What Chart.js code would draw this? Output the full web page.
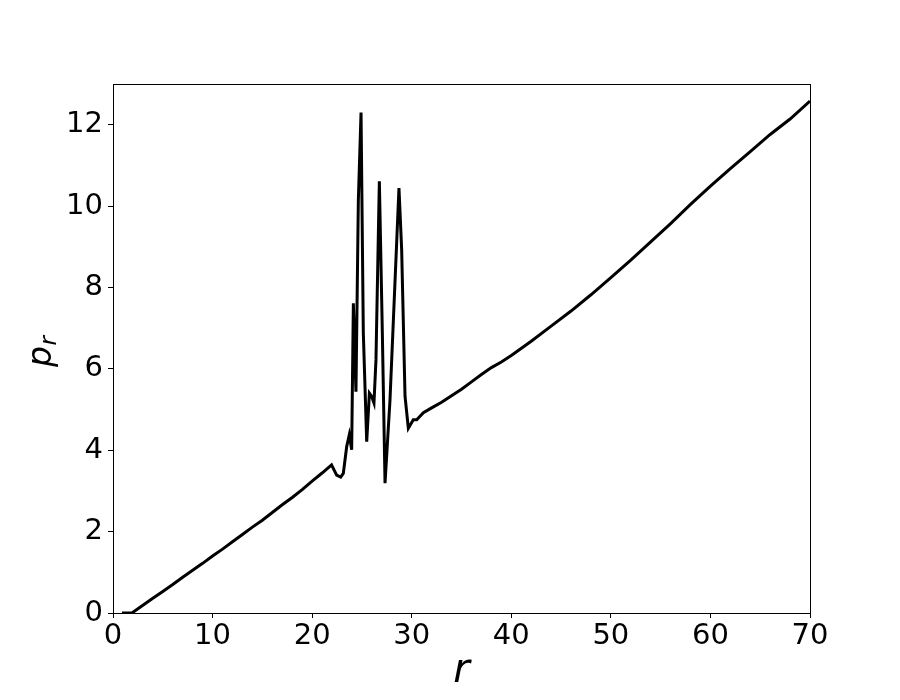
<!DOCTYPE html>
<html>
<head>
<meta charset="utf-8">
<script src="https://cdn.jsdelivr.net/npm/chart.js@4/dist/chart.umd.min.js"></script>
<style>
  html, body { margin: 0; padding: 0; background: #fff; }
  canvas { display: block; }
</style>
</head>
<body>
<canvas id="c" width="900" height="700"></canvas>
<script>
const rValues = [0.9, 1.9, 3, 4, 5, 6, 7, 8, 9, 10, 11, 12, 13, 14, 15, 16, 17, 18, 19, 20, 21,
  21.95, 22.46, 22.87, 23.13, 23.47, 23.73, 23.97, 24.14, 24.4, 24.64, 24.91, 25.14, 25.48,
  25.75, 25.98, 26.21, 26.41, 26.75, 27.05, 27.32, 27.82, 28.72, 28.99, 29.33, 29.66, 30.16,
  30.5, 31.17, 32, 33, 34, 35, 36, 37, 38, 39, 40, 42, 44, 46, 48, 50, 52, 54, 56, 58, 60,
  62, 64, 66, 68, 70];
const prValues = [0, 0, 0.19, 0.36, 0.53, 0.70, 0.88, 1.05, 1.22, 1.40, 1.57, 1.75, 1.93, 2.11,
  2.28, 2.47, 2.66, 2.84, 3.03, 3.24, 3.44,
  3.64, 3.39, 3.34, 3.43, 4.09, 4.38, 4.01, 7.61, 5.44, 10.15, 12.3, 6.88, 4.21,
  5.40, 5.32, 5.16, 6.22, 10.61, 6.88, 3.19, 5.24, 10.44, 8.93, 5.32, 4.54, 4.75,
  4.75, 4.92, 5.04, 5.18, 5.34, 5.50, 5.68, 5.86, 6.03, 6.17, 6.33, 6.68, 7.05, 7.42, 7.82,
  8.24, 8.67, 9.12, 9.57, 10.04, 10.49, 10.92, 11.34, 11.76, 12.14, 12.58];
const xTickValues = [0, 10, 20, 30, 40, 50, 60, 70];
const yTickValues = [0, 2, 4, 6, 8, 10, 12];
const xLabel = 'r';
const yLabelMain = 'p';
const yLabelSub = 'r';

const points = rValues.map((r, i) => ({ x: r, y: prValues[i] }));
const FONT = '"DejaVu Sans", sans-serif';

const framePlugin = {
  id: 'frame',
  afterDraw(chart) {
    const { ctx, chartArea: a } = chart;
    ctx.save();
    ctx.strokeStyle = '#000';
    ctx.lineWidth = 1;
    ctx.strokeRect(a.left + 0.5, a.top + 0.5, a.right - a.left, a.bottom - a.top);
    // x axis title
    ctx.fillStyle = '#000';
    ctx.font = 'italic 40px ' + FONT;
    ctx.textAlign = 'center';
    ctx.textBaseline = 'alphabetic';
    ctx.fillText(xLabel, (a.left + a.right) / 2, 681.5);
    // y axis title (rotated, with subscript)
    ctx.translate(51.3, 367);
    ctx.rotate(-Math.PI / 2);
    ctx.textAlign = 'left';
    ctx.font = 'italic 33px ' + FONT;
    ctx.fillText(yLabelMain, 0, 0);
    const pw = ctx.measureText(yLabelMain).width;
    ctx.font = 'italic 23px ' + FONT;
    ctx.fillText(yLabelSub, pw + 0.5, 4.7);
    ctx.restore();
  }
};

new Chart(document.getElementById('c'), {
  type: 'line',
  data: {
    datasets: [{
      data: points,
      borderColor: '#000',
      borderWidth: 3,
      pointRadius: 0,
      tension: 0,
      fill: false
    }]
  },
  options: {
    responsive: false,
    animation: false,
    devicePixelRatio: 1,
    layout: { padding: { top: 84, right: 90, left: 0, bottom: 0 } },
    plugins: { legend: { display: false }, tooltip: { enabled: false } },
    scales: {
      x: {
        type: 'linear',
        min: 0, max: 70,
        afterBuildTicks(scale) { scale.ticks = xTickValues.map(v => ({ value: v })); },
        afterFit(scale) { scale.height = 87; },
        grid: { display: true, drawOnChartArea: false, drawTicks: true, tickLength: 5, color: '#000', lineWidth: 1 },
        border: { display: true, color: '#000', width: 1 },
        ticks: { color: '#000', font: { family: FONT, size: 29 }, padding: 1, maxRotation: 0 }
      },
      y: {
        type: 'linear',
        min: 0, max: 13,
        afterBuildTicks(scale) { scale.ticks = yTickValues.map(v => ({ value: v })); },
        afterFit(scale) { scale.width = 113; },
        grid: { display: true, drawOnChartArea: false, drawTicks: true, tickLength: 5, color: '#000', lineWidth: 1 },
        border: { display: true, color: '#000', width: 1 },
        ticks: { color: '#000', font: { family: FONT, size: 29 }, padding: 5 }
      }
    }
  },
  plugins: [framePlugin]
});
</script>
</body>
</html>
